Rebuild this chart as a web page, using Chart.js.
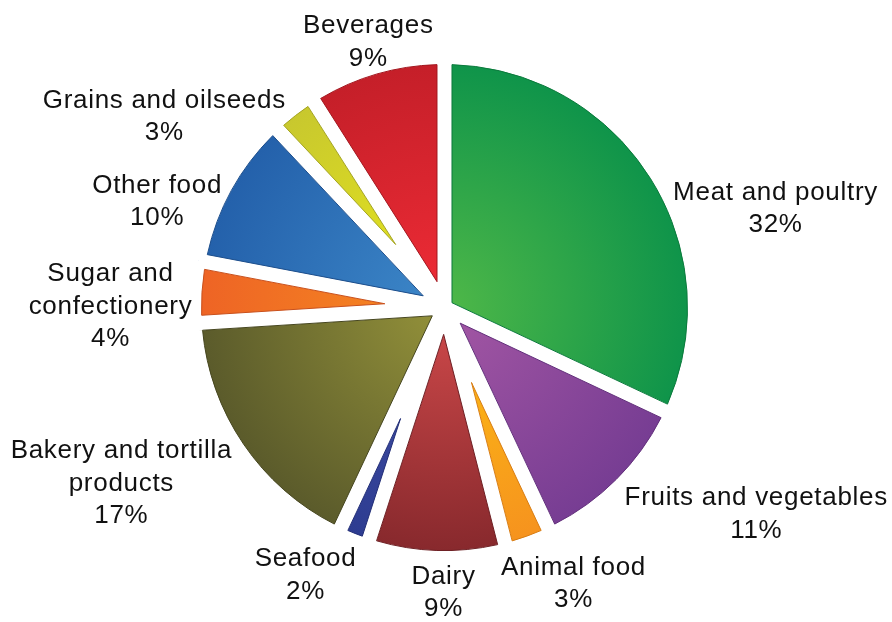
<!DOCTYPE html>
<html>
<head>
<meta charset="utf-8">
<script src="https://cdn.jsdelivr.net/npm/chart.js@4.4.1/dist/chart.umd.min.js"></script>
<style>
  html, body { margin: 0; padding: 0; background: #fff; }
  #wrap { width: 892px; height: 622px; }
</style>
</head>
<body>
<div id="wrap"><canvas id="foodPie"></canvas></div>
<script>
// Sectors, clockwise from 12 o'clock
const categories = [
  'Meat and poultry', 'Fruits and vegetables', 'Animal food', 'Dairy', 'Seafood',
  'Bakery and tortilla products', 'Sugar and confectionery', 'Other food',
  'Grains and oilseeds', 'Beverages'
];
// Share of each sector, percent
const shares = [32, 11, 3, 9, 2, 17, 4, 10, 3, 9];
// Label text broken into lines (the percentage goes on the last line)
const labelLines = [
  ['Meat and poultry'], ['Fruits and vegetables'], ['Animal food'], ['Dairy'], ['Seafood'],
  ['Bakery and tortilla', 'products'], ['Sugar and', 'confectionery'], ['Other food'],
  ['Grains and oilseeds'], ['Beverages']
];

// Colours: light near the centre, dark at the rim, and an outline
const innerColors = ['#4fb848', '#a457a4', '#fdc112', '#d04a4b', '#4653a8', '#94923a', '#f68c21', '#3d88c9', '#e9e81b', '#f02c36'];
const outerColors = ['#0f944a', '#773d93', '#f6931e', '#88292d', '#2d3c91', '#5b5b2b', '#ee6425', '#2461ab', '#c8c82e', '#c51f29'];
const edgeColors  = ['#0b7a3c', '#63307c', '#d87d14', '#6e2024', '#232f78', '#46461f', '#c9501c', '#1c4e8c', '#a4a420', '#a3171f'];

// Label placement: [turn from the sector's middle in degrees, distance from centre]
const labelPlacement = [
  [15.5, 346], [-11.7, 373], [-5.4, 303], [-1.6, 283], [6.0, 300],
  [5.9, 367], [-3.1, 334], [-8.2, 307], [-17.7, 340], [0.3, 278]
];

const RADIUS = 250.5;   // outer radius handed to Chart.js
const GAP = 7.5;        // half width of the white gap between sectors
const FONT_SIZE = 26;
const LINE_H = 32.5;

function pieCentre(chart) {
  const a = chart.chartArea;
  return { x: (a.left + a.right) / 2, y: (a.top + a.bottom) / 2 };
}

// thin dark outline round the part of each sector left after the gap is cut
const sectorOutline = {
  id: 'sectorOutline',
  afterDatasetsDraw(chart) {
    const ctx = chart.ctx;
    chart.getDatasetMeta(0).data.forEach((arc, i) => {
      const p = arc.getProps(['x', 'y', 'startAngle', 'endAngle', 'outerRadius'], true);
      const half = (p.endAngle - p.startAngle) / 2;
      const mid = p.startAngle + half;
      const r = p.outerRadius - GAP;
      const tip = GAP / Math.sin(half);
      if (tip >= r) return;
      const d = Math.asin(GAP / r);
      ctx.save();
      ctx.beginPath();
      ctx.moveTo(p.x + tip * Math.cos(mid), p.y + tip * Math.sin(mid));
      ctx.arc(p.x, p.y, r, p.startAngle + d, p.endAngle - d);
      ctx.closePath();
      ctx.lineWidth = 1;
      ctx.lineJoin = 'miter';
      ctx.strokeStyle = edgeColors[i];
      ctx.stroke();
      ctx.restore();
    });
  }
};

const sliceLabels = {
  id: 'sliceLabels',
  afterDatasetsDraw(chart) {
    const ctx = chart.ctx;
    ctx.save();
    ctx.font = FONT_SIZE + 'px "Liberation Sans", Arial, Helvetica, sans-serif';
    ctx.letterSpacing = '0.7px';
    ctx.fillStyle = '#111';
    ctx.textAlign = 'center';
    ctx.textBaseline = 'alphabetic';
    chart.getDatasetMeta(0).data.forEach((arc, i) => {
      const p = arc.getProps(['x', 'y', 'startAngle', 'endAngle'], true);
      const [turn, dist] = labelPlacement[i];
      const a = (p.startAngle + p.endAngle) / 2 + turn * Math.PI / 180;
      const cx = p.x + dist * Math.cos(a);
      const cy = p.y + dist * Math.sin(a);
      const lines = [...labelLines[i], shares[i] + '%'];
      lines.forEach((t, k) => {
        const by = cy + (k - (lines.length - 1) / 2) * LINE_H + FONT_SIZE * 0.358;
        ctx.fillText(t, cx, by);
      });
    });
    ctx.restore();
  }
};

new Chart(document.getElementById('foodPie'), {
  type: 'pie',
  data: {
    labels: categories,
    datasets: [{
      data: shares,
      backgroundColor(c) {
        const i = c.dataIndex;
        if (!c.chart.chartArea) return outerColors[i];
        const o = pieCentre(c.chart);
        const g = c.chart.ctx.createRadialGradient(o.x, o.y, 0, o.x, o.y, RADIUS - GAP);
        g.addColorStop(0, innerColors[i]);
        g.addColorStop(1, outerColors[i]);
        return g;
      },
      // a wide white border carves an even gap between neighbouring sectors
      borderColor: '#ffffff',
      borderWidth: GAP * 2,
      borderAlign: 'center',
      hoverOffset: 0
    }]
  },
  options: {
    responsive: true,
    maintainAspectRatio: false,
    animation: false,
    radius: RADIUS,
    layout: { padding: { left: 0, right: 3, top: 0, bottom: 7 } },
    plugins: {
      legend: { display: false },
      tooltip: { enabled: false }
    }
  },
  plugins: [sectorOutline, sliceLabels]
});
</script>
</body>
</html>
